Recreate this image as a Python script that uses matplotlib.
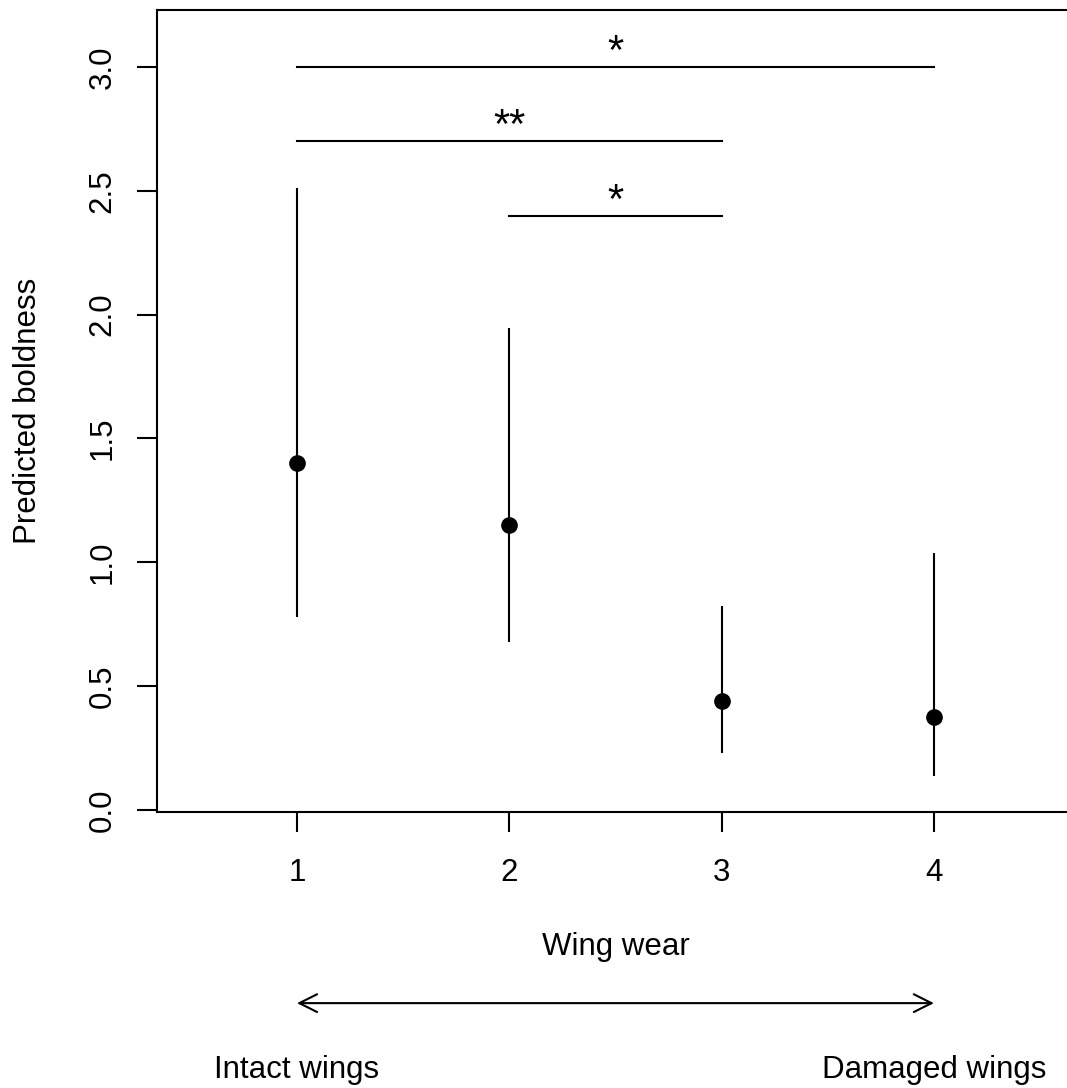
import matplotlib.pyplot as plt
import matplotlib.transforms as mtransforms

plt.rcParams['font.family'] = ['Liberation Sans', 'DejaVu Sans']

# estimated values
wear = [1, 2, 3, 4]
boldness = [1.40, 1.15, 0.44, 0.375]
lower = [0.78, 0.677, 0.23, 0.137]
upper = [2.51, 1.948, 0.823, 1.036]

# significance brackets: (start, end, height, label)
sig_start = [1, 1, 2]
sig_end = [4, 3, 3]
sig_height = [3.0, 2.7, 2.4]
sig_label = ['*', '**', '*']

fig = plt.figure(figsize=(10.67, 10.88), dpi=100)
ax = fig.add_axes([0.147, 0.2537, 0.8596, 0.7371])

ax.vlines(wear, lower, upper, color='black', lw=1.5)
ax.plot(wear, boldness, 'o', color='black', markersize=11)

for s, e, h, lab in zip(sig_start, sig_end, sig_height, sig_label):
    ax.plot([s, e], [h, h], color='black', lw=1.5)
    ax.text((s + e) / 2, h + 0.012, lab, ha='center', va='baseline',
            fontsize=30)

ax.set_xlim(0.34, 4.66)
ax.set_ylim(-0.008, 3.23)
ax.set_xticks(wear)
ax.set_yticks([0.0, 0.5, 1.0, 1.5, 2.0, 2.5, 3.0])
ax.set_yticklabels(['0.0', '0.5', '1.0', '1.5', '2.0', '2.5', '3.0'],
                   rotation=90, va='center')
ax.tick_params(length=14.4, width=1.5, labelsize=22.5)
ax.tick_params(axis='x', pad=19)
ax.tick_params(axis='y', pad=14)
for sp in ax.spines.values():
    sp.set_linewidth(1.5)

ax.set_xlabel('Wing wear', fontsize=22.5, va='center')
ax.xaxis.set_label_coords(0.5, -0.168)
ax.set_ylabel('Predicted boldness', fontsize=22.5, va='center')
ax.yaxis.set_label_coords(-0.1407, 0.5)

# arrow below the axis
trans = mtransforms.blended_transform_factory(ax.transData, fig.transFigure)
ax.annotate('', xy=(4, 0.078), xytext=(1, 0.078), xycoords=trans,
            textcoords=trans, annotation_clip=False,
            arrowprops=dict(arrowstyle='<->', color='black', lw=1.5,
                            mutation_scale=32, shrinkA=0, shrinkB=0))
ax.text(1, 0.017, 'Intact wings', transform=trans, ha='center', va='center',
        fontsize=22.5)
ax.text(4, 0.017, 'Damaged wings', transform=trans, ha='center', va='center',
        fontsize=22.5)

fig.savefig('out.png', dpi=100)
